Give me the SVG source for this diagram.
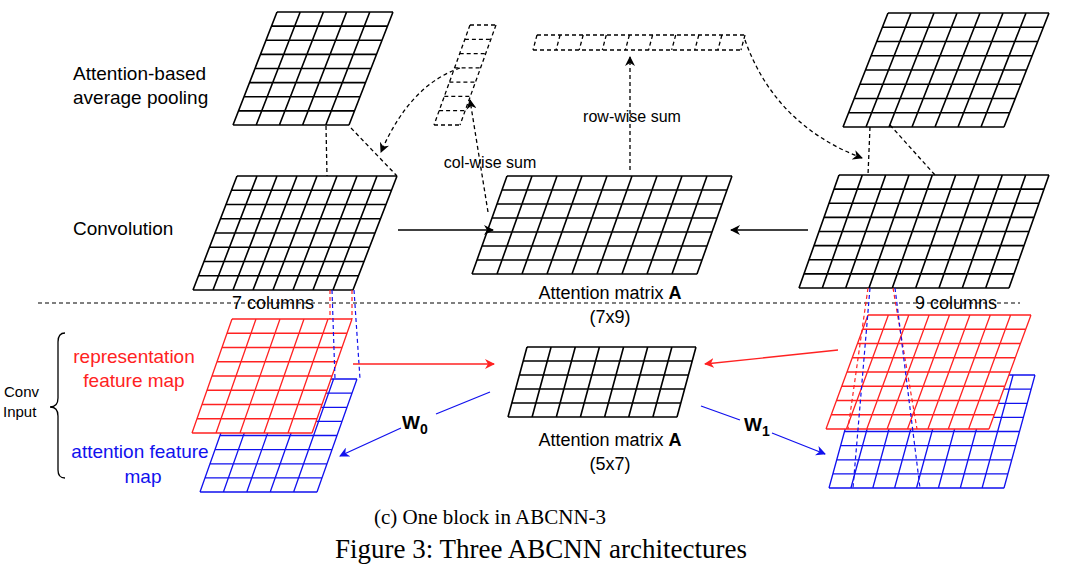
<svg xmlns="http://www.w3.org/2000/svg" width="1080" height="576" viewBox="0 0 1080 576">
<defs>
<style>
.g{fill:none;stroke:#000;stroke-width:1.6}
.gr{fill:none;stroke:#f22;stroke-width:1.3}
.gb{fill:none;stroke:#11e;stroke-width:1.3}
.d{fill:none;stroke:#000;stroke-width:1.3;stroke-dasharray:4 3}
.t{font-family:"Liberation Sans",Arial,sans-serif;font-size:19px}
.c{font-family:"Liberation Serif","Times New Roman",serif}
</style>
<marker id="ak" markerWidth="10" markerHeight="10" refX="9" refY="5" orient="auto" markerUnits="userSpaceOnUse"><path d="M0,0L10,5L0,10L3,5z" fill="#000"/></marker>
<marker id="ar" markerWidth="10" markerHeight="10" refX="9" refY="5" orient="auto" markerUnits="userSpaceOnUse"><path d="M0,0L10,5L0,10L3,5z" fill="#f22"/></marker>
<marker id="ab" markerWidth="10" markerHeight="10" refX="9" refY="5" orient="auto" markerUnits="userSpaceOnUse"><path d="M0,0L10,5L0,10L3,5z" fill="#11e"/></marker>
</defs>
<rect width="1080" height="576" fill="#fff"/>

<g id="pool-left"><path class="g" d="M277 12l-44 113M300.2 12l-44 113M323.4 12l-44 113M346.6 12l-44 113M369.8 12l-44 113M393 12l-44 113M277 12h116M271.5 26.1h116M266 40.3h116M260.5 54.4h116M255 68.5h116M249.5 82.6h116M244 96.8h116M238.5 110.9h116M233 125h116"/></g>
<g id="conv-left"><path class="g" d="M237 176l-44 114M257 176l-44 114M277 176l-44 114M297 176l-44 114M317 176l-44 114M337 176l-44 114M357 176l-44 114M377 176l-44 114M397 176l-44 114M237 176h160M231.5 190.25h160M226 204.5h160M220.5 218.75h160M215 233h160M209.5 247.25h160M204 261.5h160M198.5 275.75h160M193 290h160"/></g>
<g id="attn-7x9"><path class="g" d="M507 176l-35 98M532 176l-35 98M557 176l-35 98M582 176l-35 98M607 176l-35 98M632 176l-35 98M657 176l-35 98M682 176l-35 98M707 176l-35 98M732 176l-35 98M507 176h225M502 190h225M497 204h225M492 218h225M487 232h225M482 246h225M477 260h225M472 274h225"/></g>
<g id="conv-right"><path class="g" d="M839 175l-40 113M862.3 175l-40 113M885.7 175l-40 113M909 175l-40 113M932.3 175l-40 113M955.7 175l-40 113M979 175l-40 113M1002.3 175l-40 113M1025.7 175l-40 113M1049 175l-40 113M839 175h210M834 189.1h210M829 203.3h210M824 217.4h210M819 231.5h210M814 245.6h210M809 259.8h210M804 273.9h210M799 288h210"/></g>
<g id="pool-right"><path class="g" d="M888 13l-45 114M911 13l-45 114M934 13l-45 114M957 13l-45 114M980 13l-45 114M1003 13l-45 114M1026 13l-45 114M1049 13l-45 114M888 13h161M882.4 27.25h161M876.8 41.5h161M871.1 55.75h161M865.5 70h161M859.9 84.25h161M854.3 98.5h161M848.6 112.75h161M843 127h161"/></g>
<g id="col-vector"><path class="d" d="M470 25l-36 100M496 25l-36 100M470 25h26M464.9 39.3h26M459.7 53.6h26M454.6 67.9h26M449.4 82.1h26M444.3 96.4h26M439.1 110.7h26M434 125h26"/></g>
<g id="row-vector"><path class="d" d="M537 35l-4 15M560.1 35l-4 15M583.2 35l-4 15M606.3 35l-4 15M629.4 35l-4 15M652.6 35l-4 15M675.7 35l-4 15M698.8 35l-4 15M721.9 35l-4 15M745 35l-4 15M537 35h208M533 50h208"/></g>

<g id="blue-left"><path class="gb" d="M240 379l-40 113M263.4 379l-40 113M286.8 379l-40 113M310.2 379l-40 113M333.6 379l-40 113M357 379l-40 113M240 379h117M235 393.1h117M230 407.3h117M225 421.4h117M220 435.5h117M215 449.6h117M210 463.8h117M205 477.9h117M200 492h117"/></g>
<g id="red-left"><polygon points="232,319 352,319 312,433 192,433" fill="#fff"/><path class="gr" d="M232 319l-40 114M256 319l-40 114M280 319l-40 114M304 319l-40 114M328 319l-40 114M352 319l-40 114M232 319h120M227 333.25h120M222 347.5h120M217 361.75h120M212 376h120M207 390.25h120M202 404.5h120M197 418.75h120M192 433h120"/></g>
<g id="attn-5x7"><path class="g" d="M527 347l-19 70M551.1 347l-19 70M575.3 347l-19 70M599.4 347l-19 70M623.6 347l-19 70M647.7 347l-19 70M671.9 347l-19 70M696 347l-19 70M527 347h169M523.2 361h169M519.4 375h169M515.6 389h169M511.8 403h169M508 417h169"/></g>
<g id="blue-right"><path class="gb" d="M860 375l-31 113M881.9 375l-31 113M903.8 375l-31 113M925.6 375l-31 113M947.5 375l-31 113M969.4 375l-31 113M991.3 375l-31 113M1013.1 375l-31 113M1035 375l-31 113M860 375h175M856.1 389.1h175M852.3 403.3h175M848.4 417.4h175M844.5 431.5h175M840.6 445.6h175M836.8 459.8h175M832.9 473.9h175M829 488h175"/></g>
<g id="red-right"><polygon points="868,315 1031,315 989,429 826,429" fill="#fff"/><path class="gr" d="M868 315l-42 114M888.4 315l-42 114M908.8 315l-42 114M929.1 315l-42 114M949.5 315l-42 114M969.9 315l-42 114M990.3 315l-42 114M1010.6 315l-42 114M1031 315l-42 114M868 315h163M862.75 329.25h163M857.5 343.5h163M852.25 357.75h163M847 372h163M841.75 386.25h163M836.5 400.5h163M831.25 414.75h163M826 429h163"/></g>

<g id="connectors">
<path class="d" d="M326 126L327 176M351 128L397 176M870 127L868 175M890 125L935 175"/>
<path class="d" d="M460 68Q410 85 381 152" marker-end="url(#ak)"/>
<path class="d" d="M488 212L470 100" marker-end="url(#ak)"/>
<path class="d" d="M630 170L630 57" marker-end="url(#ak)"/>
<path class="d" d="M745 40Q775 125 862 158" marker-end="url(#ak)"/>
<path d="M398 230H493" stroke="#000" stroke-width="1.5" marker-end="url(#ak)"/>
<path d="M808 230H731" stroke="#000" stroke-width="1.5" marker-end="url(#ak)"/>
<path d="M38 303H1020" stroke="#000" stroke-width="1.2" stroke-dasharray="4 3"/>
<path d="M330 290L330 319M352 290L352 319" stroke="#f22" stroke-width="1.2" stroke-dasharray="4 3"/>
<path d="M332 290L335 379M354 290L360 379" stroke="#11e" stroke-width="1.2" stroke-dasharray="4 3"/>
<path d="M868 288L848 429M893 288L917 429" stroke="#f22" stroke-width="1.2" stroke-dasharray="4 3"/>
<path d="M870 288L853 488M895 288L920 488" stroke="#11e" stroke-width="1.2" stroke-dasharray="4 3"/>
<path d="M353 364H494" stroke="#f22" stroke-width="1.3" marker-end="url(#ar)"/>
<path d="M838 350L705 364" stroke="#f22" stroke-width="1.3" marker-end="url(#ar)"/>
<path d="M490 392L436 414M401 428L342 455" stroke="#11e" stroke-width="1.3" fill="none"/>
<path d="M342 455L340 456" stroke="#11e" marker-end="url(#ab)"/>
<path d="M701 406L740 420M772 433L825 454" stroke="#11e" stroke-width="1.3" fill="none"/>
<path d="M820 452L825 454" stroke="#11e" marker-end="url(#ab)"/>
<path d="M65 333Q58 333 58 342V398Q58 407 50 407Q58 407 58 416V470Q58 478 65 478" fill="none" stroke="#000" stroke-width="1.3"/>
</g>

<g id="labels" class="t">
<text x="73" y="80">Attention-based</text>
<text x="73" y="104">average pooling</text>
<text x="73" y="235">Convolution</text>
<text x="490" y="168" font-size="16" text-anchor="middle">col-wise sum</text>
<text x="632" y="122" font-size="16" text-anchor="middle">row-wise sum</text>
<text x="273" y="309" font-size="18" text-anchor="middle">7 columns</text>
<text x="956" y="309" font-size="18" text-anchor="middle">9 columns</text>
<text x="610" y="299" font-size="18" text-anchor="middle">Attention matrix <tspan font-weight="bold">A</tspan></text>
<text x="610" y="323" font-size="18" text-anchor="middle">(7x9)</text>
<text x="610" y="446" font-size="18" text-anchor="middle">Attention matrix <tspan font-weight="bold">A</tspan></text>
<text x="610" y="470" font-size="18" text-anchor="middle">(5x7)</text>
<text x="134" y="363" fill="#f22" text-anchor="middle">representation</text>
<text x="134" y="387" fill="#f22" text-anchor="middle">feature map</text>
<text x="140" y="458" fill="#11e" text-anchor="middle">attention  feature</text>
<text x="143" y="483" fill="#11e" text-anchor="middle">map</text>
<text x="4" y="397" font-size="15">Conv</text>
<text x="3" y="417" font-size="15">Input</text>
<text x="402" y="429" font-weight="bold" font-size="19">W<tspan font-size="14" dy="5">0</tspan></text>
<text x="744" y="431" font-weight="bold" font-size="19">W<tspan font-size="14" dy="5">1</tspan></text>
</g>
<text class="c" x="490" y="524" font-size="21" text-anchor="middle">(c) One block in ABCNN-3</text>
<text class="c" x="541" y="558" font-size="27" text-anchor="middle">Figure 3: Three ABCNN architectures</text>
</svg>
